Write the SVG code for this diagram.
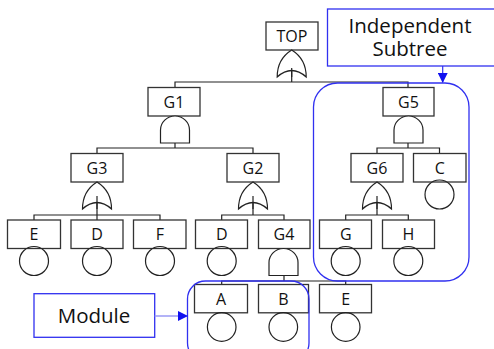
<svg xmlns="http://www.w3.org/2000/svg" width="494" height="349" viewBox="0 0 494 349">
<style>
.b{fill:#fff;stroke:#333;stroke-width:1.3}
.c{fill:none;stroke:#222;stroke-width:1.2}
.g{fill:#fff;stroke:#222;stroke-width:1.2}
.l{fill:none;stroke:#222;stroke-width:1.2}
.t{font-family:"Open Sans","Noto Sans",sans-serif;font-size:16px;fill:#111;text-anchor:middle}
.bt{font-family:"Open Sans","Noto Sans",sans-serif;font-size:20.5px;fill:#111;text-anchor:middle}
.blue{fill:none;stroke:#3030f0;stroke-width:1.3}
</style>
<defs>
<marker id="ah" markerWidth="10" markerHeight="10" refX="9" refY="5" orient="auto" markerUnits="userSpaceOnUse"><path d="M0,0 L10,5 L0,10 Z" fill="#1010f0"/></marker>
<path id="or" d="M-14.5,27 Q-14.5,9 0,0 Q14.5,9 14.5,27 Q0,14 -14.5,27 Z"/>
<path id="and" d="M-14.5,27 L-14.5,14 A14.5,14 0 0 1 14.5,14 L14.5,27 Z"/>
</defs>
<g id="connectors" class="l">
<path d="M291.7,68 V82 M175,87 V82 H408 V87"/>
<path d="M175,143 V148 M97,153 V148 H253 V153"/>
<path d="M97,196 V215 M34,220 V215 H160 V220 M97,215 V220"/>
<path d="M253,196 V215 M221.7,220 V215 H284 V220"/>
<path d="M408,143 V148 M377,153 V148 H439.5 V153"/>
<path d="M377,196 V215 M345.7,220 V215 H408.3 V220"/>
<path d="M284,275 V281 M221.7,284 V281 H345.7 V284"/>
</g>
<g id="TOP"><rect class="b" x="266" y="22" width="52" height="28"/><text class="t" x="292" y="41.5">TOP</text><use href="#or" class="g" x="291.7" y="50"/><path class="l" d="M291.7,68 V77"/></g>
<g id="G1"><rect class="b" x="148" y="87.5" width="52" height="28.5"/><text class="t" x="174" y="107.5">G1</text><use href="#and" class="g" x="175" y="116"/></g>
<g id="G5"><rect class="b" x="383" y="87.5" width="51" height="28.5"/><text class="t" x="408.5" y="107.5">G5</text><use href="#and" class="g" x="408.5" y="116"/></g>
<g id="G3"><rect class="b" x="71" y="153.5" width="52" height="28.5"/><text class="t" x="97" y="173.5">G3</text><use href="#or" class="g" x="97" y="182"/><path class="l" d="M97,196 V209"/></g>
<g id="G2"><rect class="b" x="227" y="153.5" width="52" height="28.5"/><text class="t" x="253" y="173.5">G2</text><use href="#or" class="g" x="253" y="182"/><path class="l" d="M253,196 V209"/></g>
<g id="G6"><rect class="b" x="351" y="153.5" width="52" height="28.5"/><text class="t" x="377" y="173.5">G6</text><use href="#or" class="g" x="377" y="182"/><path class="l" d="M377,196 V209"/></g>
<g id="C"><rect class="b" x="413.5" y="153.5" width="52.5" height="28.5"/><text class="t" x="439.7" y="173.5">C</text><circle class="c" cx="439.5" cy="194.5" r="14.5"/></g>
<g id="E1"><rect class="b" x="7.5" y="220" width="53" height="28.5"/><text class="t" x="34" y="240">E</text><circle class="c" cx="34" cy="261" r="14.5"/></g>
<g id="D1"><rect class="b" x="71" y="220" width="52" height="28.5"/><text class="t" x="97" y="240">D</text><circle class="c" cx="97" cy="261" r="14.5"/></g>
<g id="F"><rect class="b" x="133.5" y="220" width="52.5" height="28.5"/><text class="t" x="160" y="240">F</text><circle class="c" cx="160" cy="261" r="14.5"/></g>
<g id="D2"><rect class="b" x="195.5" y="220" width="52" height="28.5"/><text class="t" x="221.7" y="240">D</text><circle class="c" cx="221.7" cy="261" r="14.5"/></g>
<g id="G4"><rect class="b" x="258.5" y="220" width="51.5" height="28.5"/><text class="t" x="284" y="240">G4</text><use href="#and" class="g" x="283.5" y="248.5"/></g>
<g id="G"><rect class="b" x="319.5" y="220" width="52" height="28.5"/><text class="t" x="345.7" y="240">G</text><circle class="c" cx="345.7" cy="261" r="14.5"/></g>
<g id="H"><rect class="b" x="382.5" y="220" width="52" height="28.5"/><text class="t" x="408.5" y="240">H</text><circle class="c" cx="408.3" cy="261" r="14.5"/></g>
<g id="A"><rect class="b" x="194.5" y="284.5" width="53" height="28.3"/><text class="t" x="221" y="304.5">A</text><circle class="c" cx="221.7" cy="327" r="14.3"/></g>
<g id="B"><rect class="b" x="258.5" y="284.5" width="50" height="28.3"/><text class="t" x="283.5" y="304.5">B</text><circle class="c" cx="283.3" cy="327" r="14.3"/></g>
<g id="E2"><rect class="b" x="319.5" y="284.5" width="52" height="28.3"/><text class="t" x="345.7" y="304.5">E</text><circle class="c" cx="345.7" cy="327" r="14.3"/></g>
<g id="subtree-region"><rect class="blue" x="313.5" y="83" width="155.5" height="198" rx="24"/></g>
<g id="module-region"><rect class="blue" x="187.5" y="281" width="121.5" height="80" rx="18"/></g>
<g id="independent-subtree"><rect class="blue" x="327.5" y="9" width="170" height="57" style="fill:#fff"/><text class="bt" x="410" y="32.5">Independent</text><text class="bt" x="410" y="55.5">Subtree</text><path d="M442.7,66 V82" stroke="#3030f0" stroke-width="1.2" marker-end="url(#ah)"/></g>
<g id="module"><rect class="blue" x="34" y="293.7" width="120.7" height="43.6" style="fill:#fff"/><text class="bt" x="94" y="323">Module</text><path d="M154.7,316 H187" stroke="#9a9af5" stroke-width="1.3" marker-end="url(#ah)"/></g>
</svg>
